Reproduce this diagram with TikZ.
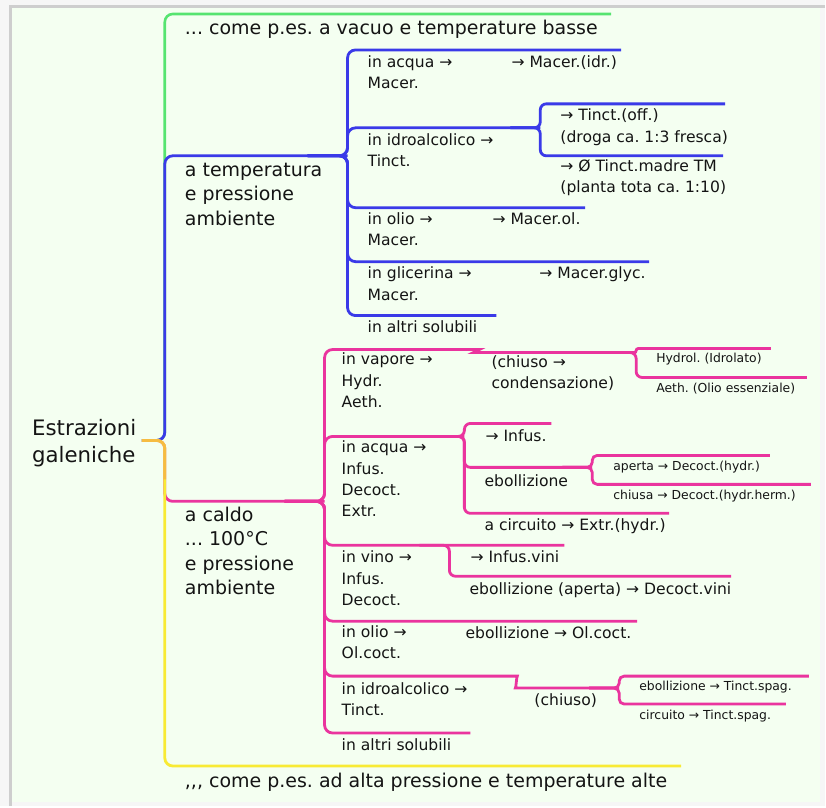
\documentclass[tikz,border=0pt]{standalone}
\usepackage{fontspec}
\setmainfont{DejaVu Sans}
\usepackage{tikz}
\definecolor{mmBlue}{RGB}{58,58,232}
\definecolor{mmPink}{RGB}{234,52,158}
\definecolor{mmGreen}{RGB}{86,228,112}
\definecolor{mmYellow}{RGB}{248,234,52}
\definecolor{mmOrange}{RGB}{246,188,66}
\definecolor{fGreen}{RGB}{244,255,241}
\definecolor{fGrey}{RGB}{246,246,246}
\definecolor{dGrey}{RGB}{206,206,206}
\definecolor{tInk}{RGB}{20,20,20}
\frenchspacing

\begin{document}
\begin{tikzpicture}[x=1pt,y=-1pt,
  rt/.style={anchor=north west,inner sep=0pt,align=left,text=tInk,font=\fontsize{21.3}{26.5}\selectfont},
  bt/.style={anchor=north west,inner sep=0pt,align=left,text=tInk,font=\fontsize{19}{24.5}\selectfont},
  mt/.style={anchor=north west,inner sep=0pt,align=left,text=tInk,font=\fontsize{15.6}{21.3}\selectfont},
  st/.style={anchor=north west,inner sep=0pt,align=left,text=tInk,font=\fontsize{12.4}{15}\selectfont},
  gl/.style={draw=mmGreen,line width=2.6pt,rounded corners=8pt},
  bl/.style={draw=mmBlue,line width=2.8pt,rounded corners=8pt},
  pl/.style={draw=mmPink,line width=2.8pt,rounded corners=8pt},
  yl/.style={draw=mmYellow,line width=2.8pt,rounded corners=8pt},
  ol/.style={draw=mmOrange,line width=2.8pt,rounded corners=8pt}]
  % sheet
  \fill[fGrey] (0,0) rectangle (826,807);
  \fill[fGreen] (12,8) rectangle (821,803);
  \draw[dGrey,line width=2.2pt] (10.5,807) |- (826,6.5);

  % root and first level
  \node[rt] (est) at (32,417.5) {\strut Estrazioni\\galeniche};
  \node[bt] (vac) at (185,16.9) {\strut ... come p.es. a vacuo e temperature basse};
  \node[bt] (amb) at (185,159.4) {\strut a temperatura\\e pressione\\ambiente};
  \node[bt] (cal) at (185,504.6) {\strut a caldo\\... 100°C\\e pressione\\ambiente};
  \node[bt] (alt) at (185,771.2) {\strut ,{},{}, come p.es. ad alta pressione e temperature alte};

  % blue branch
  \node[mt] (bacq) at (368,52.6) {\strut in acqua →\\Macer.};
  \node[mt] (bmac) at (512,52.6) {\strut → Macer.(idr.)};
  \node[mt] (bidr) at (368,130.1) {\strut in idroalcolico →\\Tinct.};
  \node[mt] (btin) at (561,105.8) {\strut → Tinct.(off.)\\(droga ca. 1:3 fresca)};
  \node[mt] (btm) at (561,156.8) {\strut → Ø Tinct.madre TM\\(planta tota ca. 1:10)};
  \node[mt] (boli) at (368,209.6) {\strut in olio →\\Macer.};
  \node[mt] (bol) at (493,209.6) {\strut → Macer.ol.};
  \node[mt] (bgli) at (368,264.1) {\strut in glicerina →\\Macer.};
  \node[mt] (bgly) at (540,264.1) {\strut → Macer.glyc.};
  \node[mt] (balt) at (368,318.1) {\strut in altri solubili};

  % pink branch
  \node[mt] (pvap) at (342,350.1) {\strut in vapore →\\Hydr.\\Aeth.};
  \node[mt] (pcon) at (492,353.1) {\strut (chiuso →\\condensazione)};
  \node[st] (phyd) at (657,352.5) {\strut Hydrol. (Idrolato)};
  \node[st] (paet) at (657,382.5) {\strut Aeth. (Olio essenziale)};
  \node[mt] (pacq) at (342,438.4) {\strut in acqua →\\Infus.\\Decoct.\\Extr.};
  \node[mt] (pinf) at (486,426.8) {\strut → Infus.};
  \node[mt] (pebo) at (485,471.8) {\strut ebollizione};
  \node[st] (pape) at (614,460.2) {\strut aperta → Decoct.(hydr.)};
  \node[st] (pchi) at (614,489.5) {\strut chiusa → Decoct.(hydr.herm.)};
  \node[mt] (pcir) at (485,516.1) {\strut a circuito → Extr.(hydr.)};
  \node[mt] (pvin) at (342,548.4) {\strut in vino →\\Infus.\\Decoct.};
  \node[mt] (pivi) at (471,548.4) {\strut → Infus.vini};
  \node[mt] (pdvi) at (470,580.1) {\strut ebollizione (aperta) → Decoct.vini};
  \node[mt] (poli) at (342,623.4) {\strut in olio →\\Ol.coct.};
  \node[mt] (pocc) at (466,624.1) {\strut ebollizione → Ol.coct.};
  \node[mt] (pidr) at (342,680.1) {\strut in idroalcolico →\\Tinct.};
  \node[mt] (pchs) at (535,691.8) {\strut (chiuso)};
  \node[st] (pspe) at (640,681.2) {\strut ebollizione → Tinct.spag.};
  \node[st] (pspc) at (640,710.2) {\strut circuito → Tinct.spag.};
  \node[mt] (palt) at (342,736.8) {\strut in altri solubili};

  % line ends and junctions
  \coordinate (r0) at (142,441);
  \coordinate (rj) at (165,441);
  \coordinate (rd) at (165,480);
  \coordinate (vac-e) at (612,14);
  \coordinate (bj) at (348,156);
  \coordinate (pj) at (325,502);
  \coordinate (alt-e) at (682,767);
  \coordinate (bacq-e) at (622,50);
  \coordinate (bij) at (541,128);
  \coordinate (btin-e) at (726,104);
  \coordinate (btm-e) at (724,156);
  \coordinate (boli-e) at (586,208);
  \coordinate (bgli-e) at (650,262);
  \coordinate (balt-e) at (497,316);
  \coordinate (pvk) at (472,350);
  \coordinate (pvk2) at (482,353);
  \coordinate (pvj) at (637,353);
  \coordinate (phyd-e) at (772,349);
  \coordinate (paet-e) at (808,378);
  \coordinate (paj) at (465,437);
  \coordinate (pinf-e) at (552,424);
  \coordinate (pebj) at (593,468);
  \coordinate (pape-e) at (771,456);
  \coordinate (pchi-e) at (812,485);
  \coordinate (pcir-e) at (670,514);
  \coordinate (pvij) at (450,546);
  \coordinate (pivi-e) at (565,546);
  \coordinate (pdvi-e) at (732,577);
  \coordinate (poli-e) at (638,622);
  \coordinate (pik) at (510,677);
  \coordinate (pik2) at (524,689);
  \coordinate (pij) at (620,689);
  \coordinate (pspe-e) at (810,677);
  \coordinate (pspc-e) at (787,705);
  \coordinate (palt-e) at (471,734);

  % trunk
  \draw[gl] (r0) -- (rj) |- (vac-e);
  \draw[bl] (r0) -- (rj) |- (bj);
  \draw[pl] (r0) -- (rj) |- (pj);
  \draw[yl] (r0) -- (rj) |- (alt-e);
  \draw[ol] (r0) -- (rj) -- (rd);

  % blue
  \foreach \e in {bacq-e,bij,boli-e,bgli-e,balt-e}
    \draw[bl] ([xshift=-40pt]bj) -- (bj) |- (\e);
  \foreach \e in {btin-e,btm-e}
    \draw[bl,rounded corners=6pt] ([xshift=-30pt]bij) -- (bij) |- (\e);

  % pink
  \draw[pl] ([xshift=-40pt]pj) -- (pj) |- (pvk) to[out=0,in=180] (pvk2) -- (pvj);
  \draw[pl,rounded corners=2pt] ([xshift=-30pt]pvj) -- (pvj) |- (phyd-e);
  \draw[pl,rounded corners=6pt] ([xshift=-30pt]pvj) -- (pvj) |- (paet-e);
  \foreach \e in {paj,pivi-e,poli-e,palt-e}
    \draw[pl] ([xshift=-40pt]pj) -- (pj) |- (\e);
  \foreach \e in {pinf-e,pebj,pcir-e}
    \draw[pl,rounded corners=6pt] ([xshift=-30pt]paj) -- (paj) |- (\e);
  \foreach \e in {pape-e,pchi-e}
    \draw[pl,rounded corners=5pt] ([xshift=-30pt]pebj) -- (pebj) |- (\e);
  \draw[pl,rounded corners=6pt] ([xshift=-30pt]pvij) -- (pvij) |- (pdvi-e);
  \draw[pl] ([xshift=-40pt]pj) -- (pj) |- (pik) to[out=0,in=180] (pik2) -- (pij);
  \foreach \e in {pspe-e,pspc-e}
    \draw[pl,rounded corners=5pt] ([xshift=-30pt]pij) -- (pij) |- (\e);
\end{tikzpicture}
\end{document}
